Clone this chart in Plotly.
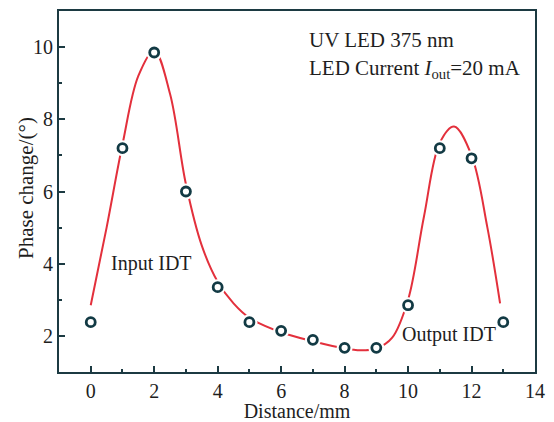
import plotly.graph_objects as go

# Measured points
distance = [0, 1, 2, 3, 4, 5, 6, 7, 8, 9, 10, 11, 12, 13]
phase = [2.38, 7.2, 9.85, 6.0, 3.35, 2.38, 2.14, 1.89, 1.67, 1.67, 2.85, 7.2, 6.92, 2.38]

# Fitted curve
fit_x = [0, 0.5, 1, 1.5, 2, 2.5, 3, 3.5, 4, 4.5, 5, 6, 7, 8, 8.5, 9, 9.5, 10, 10.5, 11, 11.45, 12, 12.5, 12.9]
fit_y = [2.85, 5.0, 7.3, 9.2, 9.9, 8.7, 6.2, 4.5, 3.5, 2.9, 2.5, 2.1, 1.85, 1.65, 1.6, 1.65, 1.95, 3.0, 5.3, 7.35, 7.8, 7.0, 5.0, 2.9]

x_ticks = [0, 2, 4, 6, 8, 10, 12, 14]
y_ticks = [2, 4, 6, 8, 10]

axis_col = "#1c3a42"
font_fam = "Liberation Serif"
txt_col = "#1e1e1e"

fig = go.Figure()
fig.add_trace(go.Scatter(x=fit_x, y=fit_y, mode="lines", line=dict(color="#e3303c", width=2, shape="spline", smoothing=1.0),
                         hoverinfo="skip", showlegend=False))
fig.add_trace(go.Scatter(x=distance, y=phase, mode="markers",
                         marker=dict(size=16, color="white", line=dict(width=0)), showlegend=False))
fig.add_trace(go.Scatter(x=distance, y=phase, mode="markers",
                         marker=dict(size=9, color="white", line=dict(color="#123a44", width=2.8)), showlegend=False))

# page body has an 8px margin, so the figure is sized/offset to compensate
fig.update_layout(
    width=546, height=414,
    margin=dict(l=51, r=19, t=1, b=50),
    paper_bgcolor="white", plot_bgcolor="white",
    font=dict(family=font_fam, size=20, color=txt_col),
    showlegend=False,
    xaxis=dict(range=[-1, 14], tickvals=x_ticks, ticks="inside", ticklen=6, tickwidth=2, tickcolor=axis_col,
               showline=True, linewidth=2, linecolor=axis_col, mirror=True, showgrid=False, zeroline=False,
               minor=dict(dtick=1, tick0=0, ticks="inside", ticklen=3, tickwidth=2, tickcolor=axis_col),
               title=dict(text="Distance/mm", standoff=2, font=dict(size=20)),
               tickfont=dict(size=20)),
    yaxis=dict(range=[1, 11], tickvals=y_ticks, ticks="inside", ticklen=6, tickwidth=2, tickcolor=axis_col,
               showline=True, linewidth=2, linecolor=axis_col, mirror=True, showgrid=False, zeroline=False,
               minor=dict(dtick=1, tick0=0, ticks="inside", ticklen=3, tickwidth=2, tickcolor=axis_col),
               tickfont=dict(size=20)),
)

fig.add_annotation(x=-0.069, y=0.51, xref="paper", yref="paper", xanchor="center", yanchor="middle",
                   text="Phase change/(°)", textangle=-90, showarrow=False,
                   font=dict(size=21, family=font_fam, color=txt_col))
fig.add_annotation(x=0.52, y=0.92, xref="paper", yref="paper", xanchor="left", yanchor="middle",
                   text="UV LED 375 nm", showarrow=False, font=dict(size=21, family=font_fam, color=txt_col))
fig.add_annotation(x=0.52, y=0.84, xref="paper", yref="paper", xanchor="left", yanchor="middle",
                   text="LED Current <i>I</i><sub>out</sub>=20 mA", showarrow=False,
                   font=dict(size=21, family=font_fam, color=txt_col))
fig.add_annotation(x=0.57, y=4.0, xref="x", yref="y", xanchor="left", yanchor="middle",
                   text="Input IDT", showarrow=False, font=dict(size=20, family=font_fam, color=txt_col))
fig.add_annotation(x=9.75, y=2.05, xref="x", yref="y", xanchor="left", yanchor="middle",
                   text="Output IDT", showarrow=False, font=dict(size=20, family=font_fam, color=txt_col))

fig.write_html("out.html")
